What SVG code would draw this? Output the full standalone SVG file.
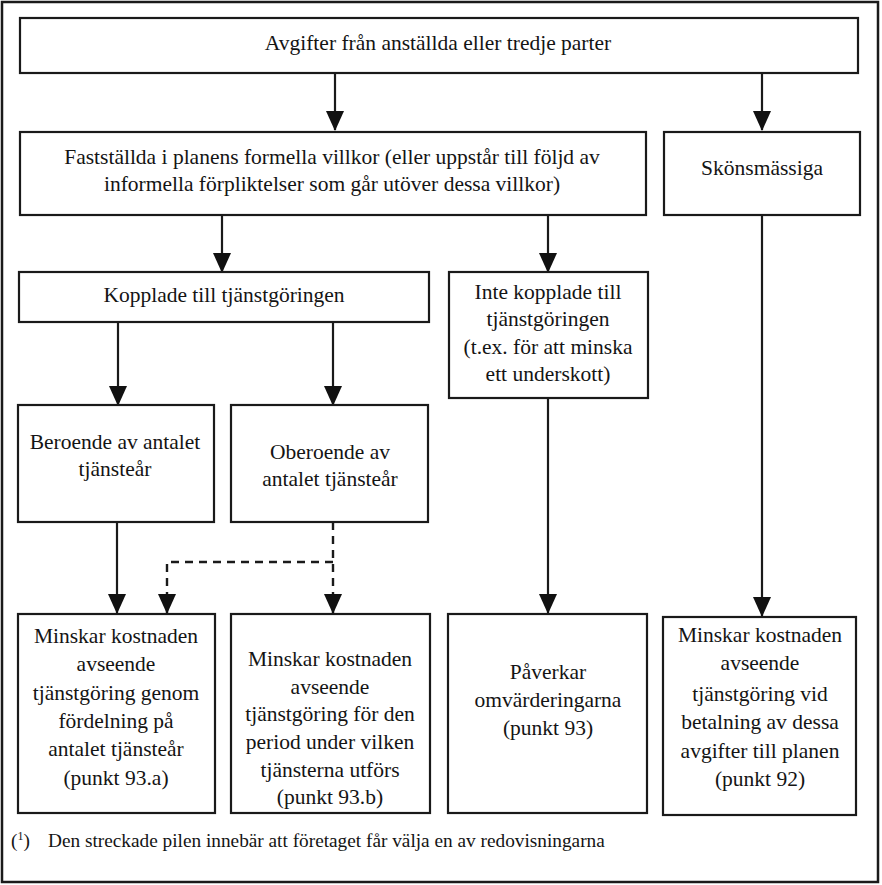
<svg xmlns="http://www.w3.org/2000/svg" width="882" height="885" viewBox="0 0 882 885">
<style>
.box{fill:#fff;stroke:#1a1a1a;stroke-width:2.2}
.t{font-family:"Liberation Serif",serif;font-size:21.5px;fill:#141414;text-anchor:middle}
.fn{font-family:"Liberation Serif",serif;font-size:19.3px;fill:#141414}
.c{fill:none;stroke:#1a1a1a;stroke-width:2.2}
.d{fill:none;stroke:#1a1a1a;stroke-width:2.4;stroke-dasharray:8,6}
</style>
<defs>
<marker id="arr" markerUnits="userSpaceOnUse" markerWidth="20" markerHeight="20" viewBox="0 0 20 20" refX="19" refY="10" orient="auto">
<path d="M0,1 L20,10 L0,19 Z" fill="#111"/>
</marker>
</defs>
<rect x="2" y="2" width="876" height="880" fill="#fff" stroke="#1a1a1a" stroke-width="2.5"/>
<g id="connectors">
<path class="c" d="M335,73 V130" marker-end="url(#arr)"/>
<path class="c" d="M762,73 V130" marker-end="url(#arr)"/>
<path class="c" d="M222,215 V272" marker-end="url(#arr)"/>
<path class="c" d="M548,215 V272" marker-end="url(#arr)"/>
<path class="c" d="M118,322 V405" marker-end="url(#arr)"/>
<path class="c" d="M333,322 V405" marker-end="url(#arr)"/>
<path class="c" d="M762,215 V616" marker-end="url(#arr)"/>
<path class="c" d="M548,398 V613" marker-end="url(#arr)"/>
<path class="c" d="M117,522 V613" marker-end="url(#arr)"/>
<path class="d" d="M333,522 V613" marker-end="url(#arr)"/>
<path class="d" d="M333,562 H167 V613" marker-end="url(#arr)"/>
</g>
<g id="n-avgifter">
<rect class="box" x="20" y="18" width="838" height="55"/>
<text class="t" x="438" y="50">Avgifter från anställda eller tredje parter</text>
</g>
<g id="n-faststallda">
<rect class="box" x="20" y="132" width="626" height="83"/>
<text class="t" x="332" y="164">Fastställda i planens formella villkor (eller uppstår till följd av</text>
<text class="t" x="332" y="191">informella förpliktelser som går utöver dessa villkor)</text>
</g>
<g id="n-skons">
<rect class="box" x="664" y="132" width="196" height="83"/>
<text class="t" x="762" y="175">Skönsmässiga</text>
</g>
<g id="n-kopplade">
<rect class="box" x="19" y="272" width="410" height="50"/>
<text class="t" x="224" y="302">Kopplade till tjänstgöringen</text>
</g>
<g id="n-intekopplade">
<rect class="box" x="449" y="272" width="199" height="126"/>
<text class="t" x="548" y="299">Inte kopplade till</text>
<text class="t" x="548" y="326">tjänstgöringen</text>
<text class="t" x="548" y="354">(t.ex. för att minska</text>
<text class="t" x="548" y="381">ett underskott)</text>
</g>
<g id="n-beroende">
<rect class="box" x="18" y="405" width="196" height="117"/>
<text class="t" x="115" y="449">Beroende av antalet</text>
<text class="t" x="115" y="476">tjänsteår</text>
</g>
<g id="n-oberoende">
<rect class="box" x="231" y="405" width="197" height="117"/>
<text class="t" x="330" y="459">Oberoende av</text>
<text class="t" x="330" y="486">antalet tjänsteår</text>
</g>
<g id="n-a">
<rect class="box" x="18" y="614" width="197" height="199"/>
<text class="t" x="116" y="643">Minskar kostnaden</text>
<text class="t" x="116" y="671">avseende</text>
<text class="t" x="116" y="700">tjänstgöring genom</text>
<text class="t" x="116" y="728">fördelning på</text>
<text class="t" x="116" y="756">antalet tjänsteår</text>
<text class="t" x="116" y="785">(punkt 93.a)</text>
</g>
<g id="n-b">
<rect class="box" x="231" y="614" width="199" height="199"/>
<text class="t" x="330" y="666">Minskar kostnaden</text>
<text class="t" x="330" y="694">avseende</text>
<text class="t" x="330" y="721">tjänstgöring för den</text>
<text class="t" x="330" y="749">period under vilken</text>
<text class="t" x="330" y="777">tjänsterna utförs</text>
<text class="t" x="330" y="804">(punkt 93.b)</text>
</g>
<g id="n-c">
<rect class="box" x="448" y="614" width="199" height="199"/>
<text class="t" x="548" y="679">Påverkar</text>
<text class="t" x="548" y="707">omvärderingarna</text>
<text class="t" x="548" y="735">(punkt 93)</text>
</g>
<g id="n-d">
<rect class="box" x="663" y="617" width="193" height="198"/>
<text class="t" x="760" y="642">Minskar kostnaden</text>
<text class="t" x="760" y="670">avseende</text>
<text class="t" x="760" y="701">tjänstgöring vid</text>
<text class="t" x="760" y="729">betalning av dessa</text>
<text class="t" x="760" y="758">avgifter till planen</text>
<text class="t" x="760" y="786">(punkt 92)</text>
</g>
<g id="footnote">
<text class="fn" x="11" y="847">(<tspan font-size="12" dy="-7">1</tspan><tspan dy="7">)</tspan></text>
<text class="fn" x="48" y="847">Den streckade pilen innebär att företaget får välja en av redovisningarna</text>
</g>
</svg>
